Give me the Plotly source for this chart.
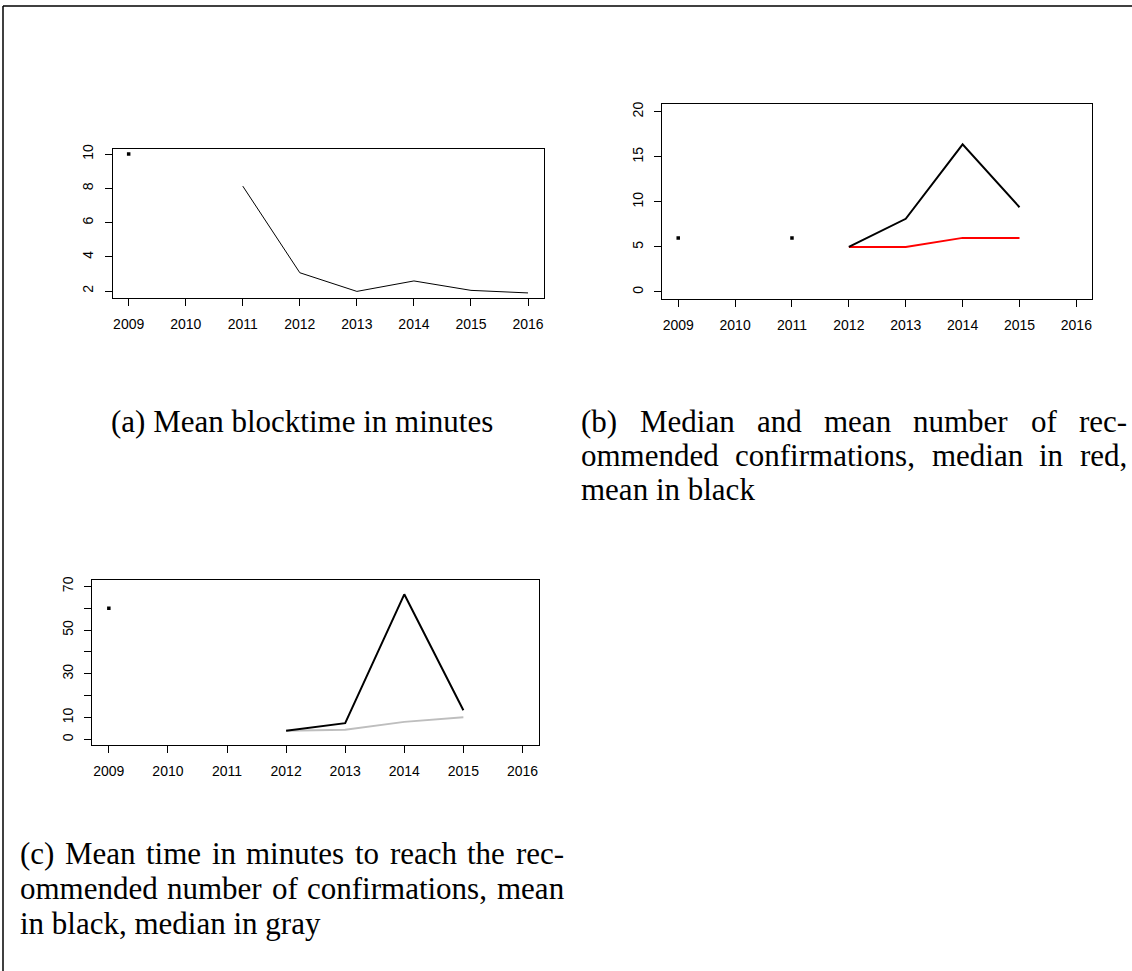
import plotly.graph_objects as go

# ---------------- data ----------------
years = [2009, 2010, 2011, 2012, 2013, 2014, 2015, 2016]
year_labels = ["2009", "2010", "2011", "2012", "2013", "2014", "2015", "2016"]

# (a) mean blocktime in minutes
blocktime_dots = [10.0, None, None, None, None, None, None, None]
blocktime_mean = [None, None, 8.13, 3.07, 1.98, 2.59, 2.04, 1.89]

# (b) recommended confirmations
confirm_dots = [6.0, None, 6.0, None, None, None, None, None]
confirm_median = [None, None, None, 5.0, 5.0, 6.0, 6.0, None]
confirm_mean = [None, None, None, 5.0, 8.12, 16.37, 9.40, None]

# (c) time to reach recommended confirmations
reach_dots = [60.0, None, None, None, None, None, None, None]
reach_median = [None, None, None, 3.9, 4.4, 8.0, 10.1, None]
reach_mean = [None, None, None, 3.9, 7.4, 66.4, 13.3, None]

a_yticks = [2, 4, 6, 8, 10]
b_yticks = [0, 5, 10, 15, 20]
c_yticks = [0, 10, 20, 30, 40, 50, 60, 70]
c_ytext = ["0", "10", "", "30", "", "50", "", "70"]

caption_a = "(a) Mean blocktime in minutes"
caption_b = [
    "(b) Median and mean number of rec-",
    "ommended confirmations, median in red,",
    "mean in black",
]
caption_c = [
    "(c) Mean time in minutes to reach the rec-",
    "ommended number of confirmations, mean",
    "in black, median in gray",
]

# ---------------- layout helpers ----------------
W, H = 1132, 971


def px_x(x):
    return x / W


def px_y(y):
    return 1 - y / H


TICKFONT = dict(family="Liberation Sans, Arial, sans-serif", size=14, color="black")
CAP_SIZE = 31
CAPFONT = dict(family="Liberation Serif, Times New Roman, serif", size=CAP_SIZE, color="black")

# Times / Liberation Serif advance widths (per 1000 em) for justification
TW = {
    "a": 444, "b": 500, "c": 444, "d": 500, "e": 444, "f": 333, "g": 500, "h": 500,
    "i": 278, "j": 278, "k": 500, "l": 278, "m": 778, "n": 500, "o": 500, "p": 500,
    "q": 500, "r": 333, "s": 389, "t": 278, "u": 500, "v": 500, "w": 722, "x": 500,
    "y": 500, "z": 444, "M": 889, "(": 333, ")": 333, ",": 250, "-": 333, " ": 250,
}


def text_w(s):
    return sum(TW.get(ch, 500) for ch in s) * CAP_SIZE / 1000.0


fig = go.Figure()

panels = {
    "a": dict(box=(112.7, 544.0, 144.3, 295.0), yr=[1.566, 10.324], yt=a_yticks, ytt=[str(v) for v in a_yticks]),
    "b": dict(box=(662.3, 1092.3, 100.0, 295.7), yr=[-0.8, 20.8], yt=b_yticks, ytt=[str(v) for v in b_yticks]),
    "c": dict(box=(92.3, 539.0, 578.3, 744.3), yr=[-2.8, 72.8], yt=c_yticks, ytt=c_ytext),
}

axis_ids = {"a": ("x", "y"), "b": ("x2", "y2"), "c": ("x3", "y3")}
layout_axes = {}
for key, p in panels.items():
    x0, x1, y0, y1 = p["box"]
    xa, ya = axis_ids[key]
    xname = "xaxis" + xa[1:]
    yname = "yaxis" + ya[1:]
    common = dict(showline=True, mirror=True, linecolor="black", linewidth=1,
                  ticks="outside", ticklen=7, tickwidth=1, tickcolor="black",
                  showgrid=False, zeroline=False, tickfont=TICKFONT, fixedrange=True)
    layout_axes[xname] = dict(domain=[px_x(x0), px_x(x1)], range=[2008.72, 2016.28],
                              tickvals=years, ticktext=year_labels, anchor=ya,
                              ticklabelstandoff=6, **common)
    layout_axes[yname] = dict(domain=[px_y(y1), px_y(y0)], range=p["yr"],
                              tickvals=p["yt"], ticktext=p["ytt"], anchor=xa,
                              tickangle=-90, ticklabelstandoff=6, **common)


def add_line(vals, xa, ya, color, width):
    fig.add_trace(go.Scatter(
        x=years, y=vals, xaxis=xa, yaxis=ya, mode="lines",
        line=dict(color=color, width=width), connectgaps=False,
        showlegend=False, hoverinfo="skip"))


def add_dots(vals, xa, ya, color):
    fig.add_trace(go.Scatter(
        x=years, y=vals, xaxis=xa, yaxis=ya, mode="markers",
        marker=dict(symbol="square", size=3.5, color=color, line=dict(width=0)),
        showlegend=False, hoverinfo="skip"))


add_dots(blocktime_dots, "x", "y", "black")
add_line(blocktime_mean, "x", "y", "black", 1)
add_dots(confirm_dots, "x2", "y2", "black")
add_line(confirm_median, "x2", "y2", "#ff0000", 2)
add_line(confirm_mean, "x2", "y2", "black", 2)
add_dots(reach_dots, "x3", "y3", "black")
add_line(reach_median, "x3", "y3", "#bebebe", 2)
add_line(reach_mean, "x3", "y3", "black", 2)

annotations = []


def add_text(text, x, baseline, anchor="left"):
    annotations.append(dict(
        text=text, x=px_x(x), y=px_y(baseline + 0.216 * CAP_SIZE),
        xref="paper", yref="paper", xanchor=anchor, yanchor="bottom",
        showarrow=False, font=CAPFONT, borderpad=0, borderwidth=0))


def add_justified(line, x_start, x_end, baseline):
    words = line.split(" ")
    widths = [text_w(w) for w in words]
    gap = (x_end - x_start - sum(widths)) / (len(words) - 1)
    x = x_start
    for w, wd in zip(words, widths):
        add_text(w, x, baseline)
        x += wd + gap


add_text(caption_a, 301.5, 430, anchor="center")

b_left, b_right = 581, 1127
b_base = [430, 464, 498]
add_justified(caption_b[0], b_left, b_right, b_base[0])
add_justified(caption_b[1], b_left, b_right, b_base[1])
add_text(caption_b[2], b_left, b_base[2])

c_left, c_right = 20, 564
c_base = [864, 899, 934]
add_justified(caption_c[0], c_left, c_right, c_base[0])
add_justified(caption_c[1], c_left, c_right, c_base[1])
add_text(caption_c[2], c_left, c_base[2])

shapes = [
    dict(type="line", xref="paper", yref="paper", x0=px_x(3), x1=1, y0=px_y(1), y1=px_y(1),
         line=dict(color="black", width=1.5)),
    dict(type="line", xref="paper", yref="paper", x0=px_x(3), x1=px_x(3), y0=px_y(1), y1=0,
         line=dict(color="black", width=1.5)),
]

fig.update_layout(
    width=W, height=H, margin=dict(l=0, r=0, t=0, b=0),
    paper_bgcolor="white", plot_bgcolor="white",
    annotations=annotations, shapes=shapes, **layout_axes)

fig.write_html("out.html", config={"displayModeBar": False},
               post_script="document.body.style.margin='0px';document.body.style.overflow='hidden';")
